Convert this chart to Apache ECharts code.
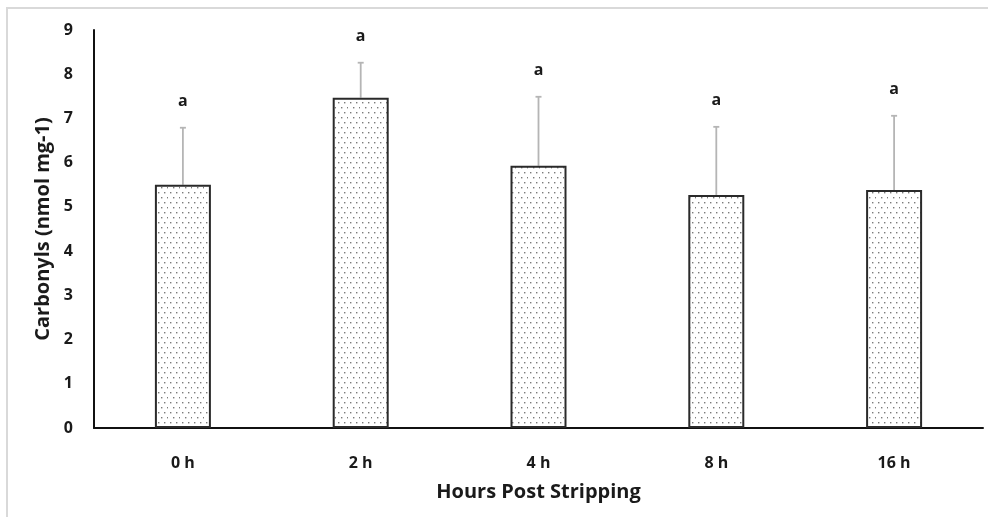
<!DOCTYPE html>
<html><head><meta charset="utf-8">
<script src="https://cdn.jsdelivr.net/npm/echarts@6/dist/echarts.min.js"></script>
<style>html,body{margin:0;padding:0;background:#fff}#c{width:988px;height:517px}</style>
</head><body><div id="c"></div>
<script>
const categories = ['0 h', '2 h', '4 h', '8 h', '16 h'];
const means = [5.50, 7.47, 5.93, 5.27, 5.38];
const errorTops = [6.79, 8.26, 7.49, 6.81, 7.06];
const letters = ['a', 'a', 'a', 'a', 'a'];
const yTicks = [0, 1, 2, 3, 4, 5, 6, 7, 8, 9];

const tile = document.createElement('canvas');
tile.width = 12; tile.height = 10;
const tc = tile.getContext('2d');
tc.fillStyle = '#fff'; tc.fillRect(0, 0, 12, 10);
tc.fillStyle = '#7a7a7a';
[[2,2],[8,2],[5,7],[11,7]].forEach(p => tc.fillRect(p[0], p[1], 1.4, 1.4));

const font = '"Open Sans", Lato, sans-serif';
const chart = echarts.init(document.getElementById('c'));
chart.setOption({
  animation: false,
  backgroundColor: '#fff',
  graphic: [{ type: 'polyline', shape: { points: [[7, 520], [7, 8], [990, 8]] }, style: { stroke: '#d9d9d9', lineWidth: 2, fill: null } }],
  grid: { left: 94, right: 5, top: 30, bottom: 89 },
  xAxis: {
    type: 'category', data: categories,
    axisLine: { lineStyle: { color: '#111', width: 2 } },
    axisTick: { show: false },
    axisLabel: { fontFamily: font, fontWeight: 'bold', fontSize: 16, color: '#1a1a1a', margin: 27 },
    name: 'Hours Post Stripping', nameLocation: 'middle', nameGap: 54,
    nameTextStyle: { fontFamily: font, fontWeight: 'bold', fontSize: 20, color: '#1a1a1a' }
  },
  yAxis: {
    type: 'value', min: 0, max: 9, interval: 1,
    axisLine: { show: true, lineStyle: { color: '#111', width: 2 } },
    axisTick: { show: false },
    splitLine: { show: false },
    axisLabel: { fontFamily: font, fontWeight: 'bold', fontSize: 16, color: '#1a1a1a', margin: 21,
      formatter: v => yTicks.includes(v) ? String(v) : '' },
    name: 'Carbonyls (nmol mg-1)', nameLocation: 'middle', nameGap: 35,
    nameTextStyle: { fontFamily: font, fontWeight: 'bold', fontSize: 20, color: '#1a1a1a' }
  },
  series: [
    {
      type: 'bar', data: means, barWidth: 56,
      itemStyle: { color: { image: tile, repeat: 'repeat' }, borderColor: '#2a2a2a', borderWidth: 2 }
    },
    {
      type: 'custom', z: 1,
      data: means.map((m, i) => [i, m, errorTops[i]]),
      renderItem: (params, api) => {
        const base = api.coord([api.value(0), api.value(1)]);
        const top = api.coord([api.value(0), api.value(2)]);
        const i = params.dataIndex;
        return { type: 'group', children: [
          { type: 'line', shape: { x1: base[0], y1: base[1], x2: top[0], y2: top[1] }, style: { stroke: '#b5b5b5', lineWidth: 1.8 } },
          { type: 'line', shape: { x1: top[0] - 3, y1: top[1], x2: top[0] + 3, y2: top[1] }, style: { stroke: '#b5b5b5', lineWidth: 1.8 } },
          { type: 'text', x: top[0], y: top[1] - 26, style: { text: letters[i], fill: '#1a1a1a', font: 'bold 16px ' + font, align: 'center', verticalAlign: 'middle' } }
        ] };
      }
    }
  ]
});
</script></body></html>
